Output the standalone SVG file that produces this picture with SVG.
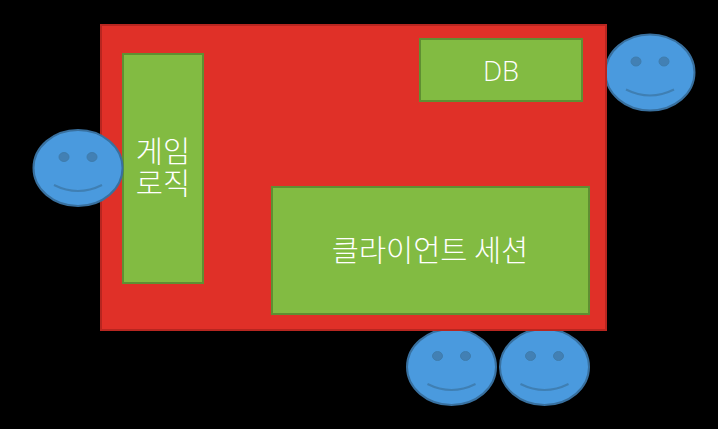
<svg xmlns="http://www.w3.org/2000/svg" width="718" height="429" viewBox="0 0 718 429">
<style>
.box{fill:#82bb42;stroke:#5f8f32;stroke-width:2}
.lbl{fill:#fff;font-family:"Noto Sans CJK KR","Noto Sans",sans-serif;font-size:29.500px;font-weight:300;text-anchor:middle}
.face{fill:#4a9ade;stroke:#38709f;stroke-width:2}
.eye{fill:#4280b4;stroke:#3f7dae;stroke-width:1}
.smile{fill:none;stroke:#3f7fb3;stroke-width:2}
</style>
<defs>
<g id="smiley">
<ellipse class="face" cx="0" cy="0" rx="44.5" ry="38"/>
<ellipse class="eye" cx="-14" cy="-11" rx="5" ry="4.500"/>
<ellipse class="eye" cx="14" cy="-11" rx="5" ry="4.500"/>
<path class="smile" d="M-24 17Q0 29 24 17"/>
</g>
</defs>
<rect width="718" height="429" fill="#000"/>
<g id="user-top-right"><use href="#smiley" x="650" y="72.500"/></g>
<g id="user-bottom-1"><use href="#smiley" x="451.500" y="367"/></g>
<g id="user-bottom-2"><use href="#smiley" x="544.500" y="367"/></g>
<g id="server"><rect x="101" y="25" width="505" height="305" fill="#e03028" stroke="#b82620" stroke-width="2"/></g>
<g id="db"><rect class="box" x="420" y="39" width="162" height="62"/><text class="lbl" x="501" y="81" style="font-family:'Open Sans','Noto Sans',sans-serif;font-size:27px">DB</text></g>
<g id="game-logic"><rect class="box" x="123" y="54" width="80" height="229"/><text class="lbl"><tspan x="163" y="162">게임</tspan><tspan x="163" y="194">로직</tspan></text></g>
<g id="client-session"><rect class="box" x="272" y="187" width="317" height="127"/><text class="lbl" x="430" y="261">클라이언트 세션</text></g>
<g id="user-left"><use href="#smiley" x="78" y="168"/></g>
<g id="connectors"></g>
</svg>
